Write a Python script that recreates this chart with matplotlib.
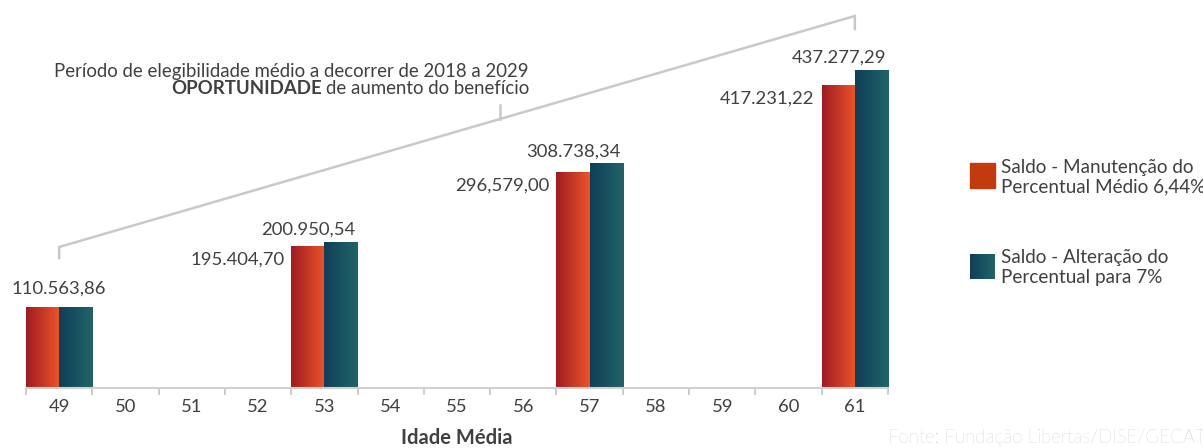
import numpy as np
import matplotlib
matplotlib.use("Agg")
from matplotlib import pyplot as plt
from matplotlib.colors import LinearSegmentedColormap
from matplotlib.patches import Rectangle

plt.rcParams['font.family'] = ['Lato', 'DejaVu Sans']

# idade média e saldos
idades = [49, 50, 51, 52, 53, 54, 55, 56, 57, 58, 59, 60, 61]
saldo_manutencao = [110563.86, None, None, None, 195404.70, None, None, None,
                    296579.00, None, None, None, 417231.22]
saldo_alteracao = [110563.86, None, None, None, 200950.54, None, None, None,
                   308738.34, None, None, None, 437277.29]
rotulos_manutencao = ["", "", "", "", "195.404,70", "", "", "", "296,579,00",
                      "", "", "", "417.231,22"]
rotulos_alteracao = ["110.563,86", "", "", "", "200.950,54", "", "", "",
                     "308.738,34", "", "", "", "437.277,29"]
nome_manutencao = "Saldo - Manutenção do\nPercentual Médio 6,44%"
nome_alteracao = "Saldo - Alteração do\nPercentual para 7%"

W, H = 1203, 448
fig = plt.figure(figsize=(W / 100, H / 100), dpi=100)
ax = fig.add_axes([26 / W, (H - 388.3) / H, 862 / W, 388.3 / H])

cm_red = LinearSegmentedColormap.from_list("r", ["#a01b22", "#ec5428"])
cm_teal = LinearSegmentedColormap.from_list("t", ["#103f58", "#206468"])
grad = np.linspace(0, 1, 64).reshape(1, -1)

x = np.arange(len(idades))
largura = 0.5
txt = "#404040"

for serie, desloc, cmap in [(saldo_manutencao, -0.25, cm_red),
                            (saldo_alteracao, 0.25, cm_teal)]:
    for i, v in enumerate(serie):
        if v is None:
            continue
        x0 = x[i] + desloc - largura / 2
        ax.imshow(grad, cmap=cmap, aspect='auto', interpolation='bilinear',
                  extent=[x0, x0 + largura, 0, v], zorder=2)

ax.set_xlim(-0.5, len(idades) - 0.5)
ax.set_ylim(0, 535000)

# rótulos de valor
for i in range(len(idades)):
    if rotulos_alteracao[i] and i == 0:
        ax.annotate(rotulos_alteracao[i], (x[i], saldo_alteracao[i]),
                    xytext=(0, 10.4), textcoords='offset points',
                    ha='center', va='baseline', fontsize=13.3, color=txt)
    elif rotulos_alteracao[i]:
        ax.annotate(rotulos_alteracao[i], (x[i] + 0.5, saldo_alteracao[i]),
                    xytext=(-1.5, 5.8), textcoords='offset points',
                    ha='right', va='baseline', fontsize=13.3, color=txt)
    if rotulos_manutencao[i]:
        ax.annotate(rotulos_manutencao[i], (x[i] - 0.5, saldo_manutencao[i]),
                    xytext=(-5, -13), textcoords='offset points',
                    ha='right', va='baseline', fontsize=13.3, color=txt)

# eixos
for s in ['top', 'right', 'left']:
    ax.spines[s].set_visible(False)
ax.spines['bottom'].set_color('#d0d0d0')
ax.spines['bottom'].set_linewidth(1.5)
ax.set_yticks([])
ax.set_xticks(x)
ax.set_xticklabels([str(v) for v in idades], fontsize=13.3, color=txt)
ax.set_xticks(np.arange(-0.5, len(idades)), minor=True)
ax.tick_params(axis='x', which='major', length=0, pad=8)
ax.tick_params(axis='x', which='minor', length=5, width=1.3, color='#c8c8c8')
fig.text(457 / W, 1 - 438 / H, "Idade Média", ha='center', va='center',
         fontsize=14.5, fontweight='bold', color=txt)

# chave do período de elegibilidade
cinza = '#c8c8c8'
ax.plot([0, 0, 12, 12], [179500, 194700, 513000, 495100], color=cinza,
        lw=1.8, clip_on=False, solid_joinstyle='miter', zorder=1)
ax.plot([6.65, 6.65], [371000, 390400], color=cinza, lw=1.8, clip_on=False)

fig.text(529 / W, 1 - 71 / H,
         "Período de elegibilidade médio a decorrer de 2018 a 2029",
         ha='right', va='center', fontsize=13.4, color=txt)
t2 = fig.text(529 / W, 1 - 89 / H, "de aumento do benefício",
              ha='right', va='center', fontsize=13.4, color=txt)
r = fig.canvas.get_renderer()
bb = t2.get_window_extent(renderer=r)
fig.text((bb.x0 - 4) / W, 1 - 89 / H, "OPORTUNIDADE", ha='right', va='center',
         fontsize=13.4, fontweight='bold', color=txt)

# legenda
fig.patches.append(Rectangle((970 / W, 1 - 188 / H), 25 / W, 25 / H,
                             transform=fig.transFigure, color='#c23a0e'))
lax = fig.add_axes([970 / W, 1 - 279 / H, 25 / W, 25 / H])
lax.imshow(grad, cmap=cm_teal, aspect='auto')
lax.axis('off')
fig.text(1001 / W, 1 - 177 / H, nome_manutencao, ha='left', va='center',
         fontsize=13.6, color=txt, linespacing=1.15)
fig.text(1001 / W, 1 - 267.5 / H, nome_alteracao, ha='left', va='center',
         fontsize=13.6, color=txt, linespacing=1.15)

fig.text(1 + 2 / W, 1 - 438 / H, "Fonte: Fundação Libertas/DISE/GECAT",
         ha='right', va='center', fontsize=13.5, fontweight='light',
         color='#b0b0b0')

fig.savefig("out.png", dpi=100)
